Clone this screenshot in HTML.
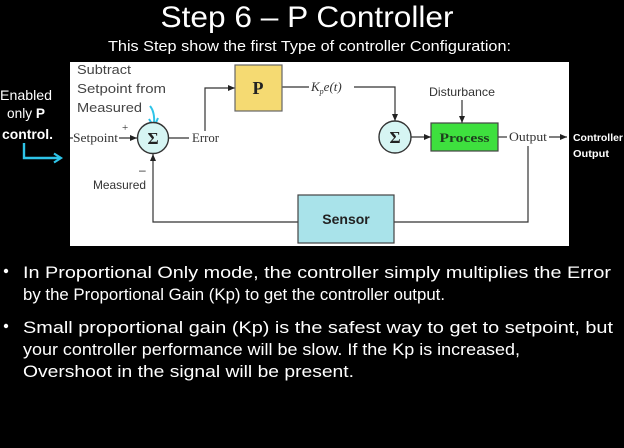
<!DOCTYPE html>
<html><head><meta charset="utf-8"><style>
html,body{margin:0;padding:0;background:#000;width:624px;height:448px;overflow:hidden}
svg{display:block}
</style></head><body>
<svg width="624" height="448" viewBox="0 0 624 448" xmlns="http://www.w3.org/2000/svg">
<defs>
<marker id="ah" markerWidth="8" markerHeight="8" refX="7" refY="4" orient="auto" markerUnits="userSpaceOnUse">
<path d="M0,1 L7,4 L0,7 Z" fill="#222"/>
</marker>
<marker id="ch" markerWidth="12" markerHeight="12" refX="9" refY="6" orient="auto" markerUnits="userSpaceOnUse">
<path d="M2,1.5 L9,6 L2,10.5" fill="none" stroke="#2ec4e8" stroke-width="2.2"/>
</marker>
</defs>
<rect width="624" height="448" fill="#000"/>
<text x="307" y="27" font-family="Liberation Sans, sans-serif" font-size="30" fill="#fff" text-anchor="middle" textLength="293" lengthAdjust="spacingAndGlyphs">Step 6 – P Controller</text>
<text x="108" y="51" font-family="Liberation Sans, sans-serif" font-size="15" fill="#fff" textLength="403" lengthAdjust="spacingAndGlyphs">This Step show the first Type of controller Configuration:</text>

<!-- panel -->
<rect x="70" y="62" width="499" height="184" fill="#fff"/>

<!-- left labels -->
<g font-family="Liberation Sans, sans-serif" font-size="14" fill="#fff">
<text x="0" y="100" textLength="52" lengthAdjust="spacingAndGlyphs">Enabled</text>
<text x="7" y="118" textLength="38" lengthAdjust="spacingAndGlyphs">only <tspan font-weight="bold">P</tspan></text>
<text x="2" y="139" font-weight="bold" textLength="51" lengthAdjust="spacingAndGlyphs">control.</text>
</g>
<path d="M24,143 L24,158 L61,158" fill="none" stroke="#2ec4e8" stroke-width="2.4" marker-end="url(#ch)"/>

<!-- subtract label -->
<g font-family="Liberation Sans, sans-serif" font-size="13" fill="#444">
<text x="77" y="74" textLength="54" lengthAdjust="spacingAndGlyphs">Subtract</text>
<text x="77" y="93" textLength="89" lengthAdjust="spacingAndGlyphs">Setpoint from</text>
<text x="77" y="112" textLength="65" lengthAdjust="spacingAndGlyphs">Measured</text>
</g>
<path d="M150,106 Q155,112 154,124" fill="none" stroke="#2ec4e8" stroke-width="2"/>
<path d="M149,119 L154,127 L158,118" fill="none" stroke="#2ec4e8" stroke-width="2"/>

<g stroke="#333" stroke-width="1.2" fill="none">
<!-- setpoint -->
<line x1="70" y1="138" x2="73" y2="138"/>
<line x1="119" y1="138" x2="137" y2="138" marker-end="url(#ah)"/>
<!-- error -->
<line x1="169" y1="138" x2="189" y2="138"/>
<path d="M205,131 L205,88 L235,88" marker-end="url(#ah)"/>
<!-- P to sum2 -->
<line x1="282" y1="87" x2="309" y2="87"/>
<path d="M354,87 L395,87 L395,121" marker-end="url(#ah)"/>
<!-- sum2 to process -->
<line x1="411" y1="137" x2="431" y2="137" marker-end="url(#ah)"/>
<!-- disturbance -->
<line x1="462" y1="100" x2="462" y2="123" marker-end="url(#ah)"/>
<!-- output -->
<line x1="498" y1="137" x2="507" y2="137"/>
<line x1="549" y1="137" x2="567" y2="137" marker-end="url(#ah)"/>
<path d="M528,146 L528,222 L394,222"/>
<!-- feedback -->
<path d="M298,222 L153,222 L153,154" marker-end="url(#ah)"/>
</g>

<!-- sum1 -->
<circle cx="153" cy="138" r="15.5" fill="#d6f5f3" stroke="#333" stroke-width="1.4"/>
<text x="153" y="144" font-family="Liberation Serif, serif" font-size="17" font-weight="bold" fill="#222" text-anchor="middle">Σ</text>
<!-- sum2 -->
<circle cx="395" cy="137" r="16" fill="#d6f5f3" stroke="#333" stroke-width="1.4"/>
<text x="395" y="143" font-family="Liberation Serif, serif" font-size="17" font-weight="bold" fill="#222" text-anchor="middle">Σ</text>

<!-- P box -->
<rect x="235" y="65" width="47" height="46" fill="#f5da72" stroke="#666" stroke-width="1.2"/>
<text x="258" y="94" font-family="Liberation Serif, serif" font-size="18" font-weight="bold" fill="#222" text-anchor="middle">P</text>

<!-- Process -->
<rect x="431" y="123" width="67" height="28" fill="#3ee03e" stroke="#444" stroke-width="1.2"/>
<text x="464.5" y="142" font-family="Liberation Serif, serif" font-size="13" font-weight="bold" fill="#1e3d1e" text-anchor="middle" textLength="50" lengthAdjust="spacingAndGlyphs">Process</text>

<!-- Sensor -->
<rect x="298" y="195" width="96" height="48" fill="#a9e3ea" stroke="#444" stroke-width="1.2"/>
<text x="346" y="224" font-family="Liberation Sans, sans-serif" font-size="14" font-weight="bold" fill="#222" text-anchor="middle">Sensor</text>

<!-- serif labels -->
<g font-family="Liberation Serif, serif" font-size="13" fill="#333">
<text x="73" y="142" textLength="45" lengthAdjust="spacingAndGlyphs">Setpoint</text>
<text x="122" y="131" font-size="11">+</text>
<text x="192" y="142" textLength="27" lengthAdjust="spacingAndGlyphs">Error</text>
<text x="311" y="91" font-style="italic">K<tspan font-size="8" dy="3">p</tspan><tspan dy="-3">e(t)</tspan></text>
<text x="509" y="141" textLength="38" lengthAdjust="spacingAndGlyphs">Output</text>
</g>
<g font-family="Liberation Sans, sans-serif" font-size="12" fill="#333">
<text x="429" y="96" textLength="66" lengthAdjust="spacingAndGlyphs">Disturbance</text>
<text x="93" y="189" textLength="53" lengthAdjust="spacingAndGlyphs">Measured</text>
<text x="139" y="174">–</text>
</g>
<g font-family="Liberation Sans, sans-serif" font-size="10" font-weight="bold" fill="#fff">
<text x="573" y="141" textLength="50" lengthAdjust="spacingAndGlyphs">Controller</text>
<text x="573" y="157" textLength="36" lengthAdjust="spacingAndGlyphs">Output</text>
</g>

<!-- bullets -->
<g font-family="Liberation Sans, sans-serif" font-size="17" fill="#fff">
<circle cx="6" cy="271" r="2.2" fill="#fff"/>
<circle cx="6" cy="326" r="2.2" fill="#fff"/>
<text x="23" y="278" textLength="588" lengthAdjust="spacingAndGlyphs">In Proportional Only mode, the controller simply multiplies the Error</text>
<text x="23" y="300" textLength="422" lengthAdjust="spacingAndGlyphs">by the Proportional Gain (Kp) to get the controller output.</text>
<text x="23" y="333" textLength="590" lengthAdjust="spacingAndGlyphs">Small proportional gain (Kp) is the safest way to get to setpoint, but</text>
<text x="23" y="355" textLength="497" lengthAdjust="spacingAndGlyphs">your controller performance will be slow. If the Kp is increased,</text>
<text x="23" y="377" textLength="331" lengthAdjust="spacingAndGlyphs">Overshoot in the signal will be present.</text>
</g>
</svg>
</body></html>
